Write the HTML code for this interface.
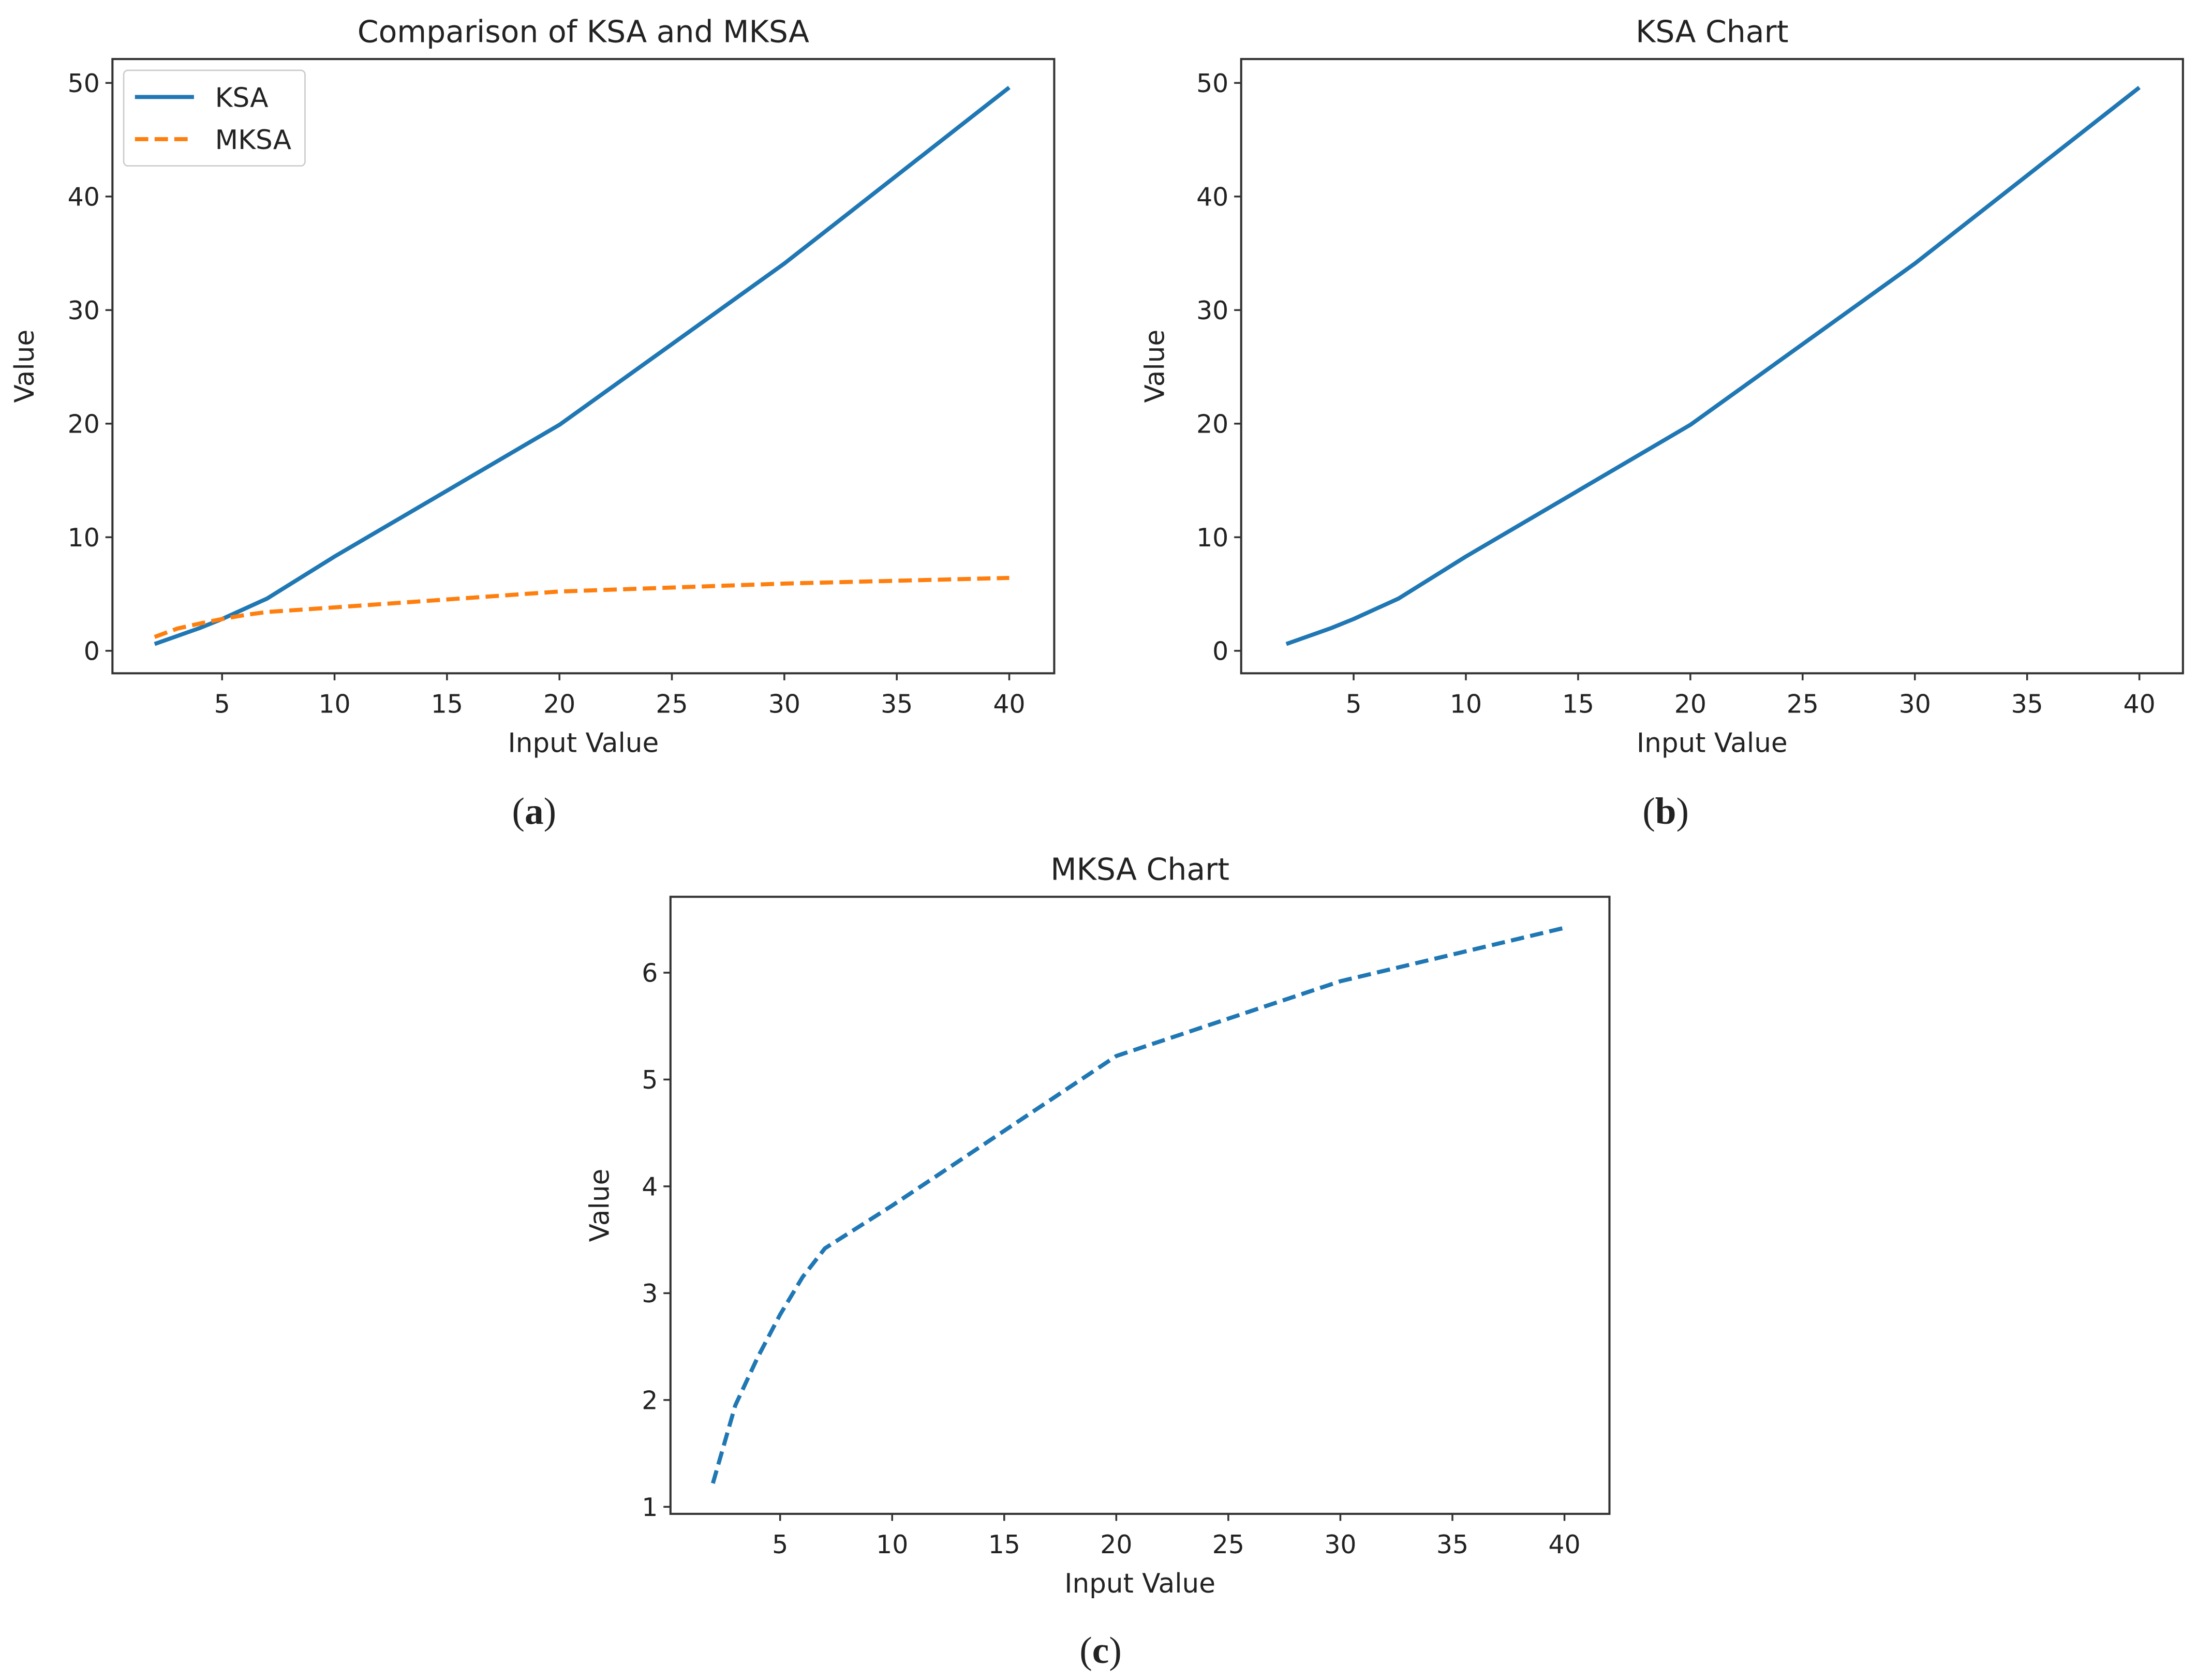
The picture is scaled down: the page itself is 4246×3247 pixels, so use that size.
<!DOCTYPE html>
<html><head><meta charset="utf-8"><style>
html,body{margin:0;padding:0;background:#fff;}
svg{display:block;}
text{font-family:"DejaVu Sans","Liberation Sans",sans-serif;fill:#222;}
.cap{font-family:"Liberation Serif",serif;}
</style></head><body>
<svg id="fig" width="4246" height="3247" viewBox="0 0 1563 1195.2" preserveAspectRatio="none" xmlns="http://www.w3.org/2000/svg"></svg>
<script>
const xs = [2,3,4,5,6,7,10,20,30,40];
const ksa = [0.6,1.3,2.0,2.8,3.7,4.6,8.3,19.9,34.1,49.6];
const mksa = [1.22,1.95,2.4,2.8,3.15,3.42,3.82,5.22,5.92,6.42];
const xTicks = [5,10,15,20,25,30,35,40];
const yTicksBig = [0,10,20,30,40,50];
const yTicksSmall = [1,2,3,4,5,6];

const NS='http://www.w3.org/2000/svg';
const svg=document.getElementById('fig');
function mk(tag,attrs,parent){const e=document.createElementNS(NS,tag);for(const k in attrs)e.setAttribute(k,attrs[k]);(parent||svg).appendChild(e);return e;}

function panel(cfg){
  const g=mk('g',{});
  
  
  const sx=v=>cfg.x5+(v-5)*(cfg.x40-cfg.x5)/35;
  const sy=v=>cfg.yA+(v-cfg.vA)*(cfg.yB-cfg.yA)/(cfg.vB-cfg.vA);
  cfg.series.forEach(s=>{
    const d=s.vals.map((v,i)=>(i?'L':'M')+sx(xs[i]).toFixed(2)+' '+sy(v).toFixed(2)).join(' ');
    const p=mk('path',{d:d,fill:'none',stroke:s.color,'stroke-width':2.9,'stroke-linejoin':'round'},g);
    if(s.dash)p.setAttribute('stroke-dasharray','9.5 4.5');
    
    
  });
  const fr=mk('rect',{x:cfg.L,y:cfg.T,width:cfg.R-cfg.L,height:cfg.B-cfg.T,fill:'none',stroke:'#333','stroke-width':1.5},g);
  
  
  xTicks.forEach(t=>{
    const X=sx(t);
    mk('line',{x1:X,x2:X,y1:cfg.B,y2:cfg.B+5,stroke:'#333','stroke-width':1.3},g);
    const tx=mk('text',{x:X,y:cfg.B+28,'text-anchor':'middle','font-size':18},g);
    tx.textContent=t;
    
    
  });
  cfg.yTicks.forEach(t=>{
    const Y=sy(t);
    mk('line',{x1:cfg.L-5,x2:cfg.L,y1:Y,y2:Y,stroke:'#333','stroke-width':1.3},g);
    const tx=mk('text',{x:cfg.L-9,y:Y+6.5,'text-anchor':'end','font-size':18},g);
    tx.textContent=t;
    
    
  });
  const ti=mk('text',{x:(cfg.L+cfg.R)/2,y:cfg.T-12,'text-anchor':'middle','font-size':21.5},g);
  ti.textContent=cfg.title;
  
  
  const xl=mk('text',{x:(cfg.L+cfg.R)/2,y:cfg.B+56,'text-anchor':'middle','font-size':19},g);
  xl.textContent='Input Value';
  
  
  const yl=mk('text',{x:0,y:0,'text-anchor':'middle','font-size':19,transform:`translate(${cfg.yLabX},${(cfg.T+cfg.B)/2}) rotate(-90)`},g);
  yl.textContent='Value';
  
  
  const cap=mk('text',{x:cfg.capX,y:cfg.capY,'text-anchor':'middle','font-size':27,class:'cap'},g);
  cap.innerHTML='(<tspan font-weight="bold">'+cfg.cap+'</tspan>)';
  
  
  return g;
}

const pa=panel({name:'chart-a',L:80,R:750,T:42,B:479,x5:158,x40:718,yA:463,vA:0,yB:59,vB:50,yTicks:yTicksBig,
  title:'Comparison of KSA and MKSA',yLabX:24,capX:380,capY:586,cap:'a',
  series:[{name:'ksa-line',vals:ksa,color:'#1f77b4'},{name:'mksa-line',vals:mksa,color:'#ff7f0e',dash:true}]});
const lg=mk('g',{},pa);


mk('rect',{x:88,y:50,width:129,height:68,rx:3,fill:'#fff',stroke:'#ccc','stroke-width':1},lg);
mk('line',{x1:96,x2:138,y1:69,y2:69,stroke:'#1f77b4','stroke-width':2.9},lg);
mk('line',{x1:96,x2:138,y1:99,y2:99,stroke:'#ff7f0e','stroke-width':2.9,'stroke-dasharray':'9.5 4.5'},lg);
const l1=mk('text',{x:153,y:76,'font-size':19},lg);l1.textContent='KSA';


const l2=mk('text',{x:153,y:106,'font-size':19},lg);l2.textContent='MKSA';



panel({name:'chart-b',L:883,R:1553,T:42,B:479,x5:963,x40:1522,yA:463,vA:0,yB:59,vB:50,yTicks:yTicksBig,
  title:'KSA Chart',yLabX:828,capX:1185,capY:586,cap:'b',
  series:[{name:'ksa-line',vals:ksa,color:'#1f77b4'}]});

panel({name:'chart-c',L:477,R:1145,T:638,B:1077,x5:555,x40:1113,yA:1072,vA:1,yB:692,vB:6,yTicks:yTicksSmall,
  title:'MKSA Chart',yLabX:433,capX:783,capY:1183,cap:'c',
  series:[{name:'mksa-line',vals:mksa,color:'#1f77b4',dash:true}]});
</script>
</body></html>
